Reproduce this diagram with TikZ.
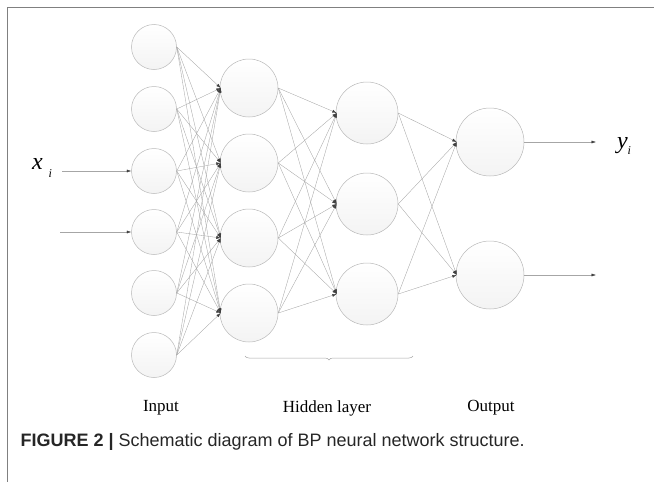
\documentclass[tikz,border=0pt]{standalone}
\usepackage{fontspec}
\setmainfont{Liberation Serif}
\newfontfamily\capfont{Liberation Sans}
\usetikzlibrary{arrows.meta,decorations.pathreplacing}

\tikzset{
  neuron/.style={circle, draw=gray!55, line width=0.5pt, top color=white, bottom color=gray!9, inner sep=0pt},
  link/.style={draw=gray!70, line width=0.35pt, -{Latex[length=4.5pt,width=3pt,color=black!75]}},
  lbl/.style={font=\fontsize{17}{20}\selectfont},
  var/.style={font=\fontsize{24}{28}\selectfont\itshape}
}

\begin{document}
\begin{tikzpicture}[x=1pt, y=-1pt]

  \useasboundingbox (0,0) rectangle (654,482);
  \draw[gray, line width=1.5pt] (7.5,482) -- (7.5,7.5) -- (654,7.5);

  % layers
  \foreach \y [count=\i] in {47,109,171,232,293,355}
    \node[neuron, minimum size=45pt] (in\i) at (154,\y) {};
  \foreach \y [count=\i] in {88,163,238,313}
    \node[neuron, minimum size=58pt] (hA\i) at (249,\y) {};
  \foreach \y [count=\i] in {113,204,294}
    \node[neuron, minimum size=62pt] (hB\i) at (367,\y) {};
  \foreach \y [count=\i] in {142,275}
    \node[neuron, minimum size=68pt] (out\i) at (490,\y) {};

  % weights
  \foreach \i in {1,...,6}
    \foreach \j in {1,...,4}
      \draw[link] (in\i.east) -- ([xshift=1pt]hA\j.west);
  \foreach \i in {1,...,4}
    \foreach \j in {1,...,3}
      \draw[link] (hA\i.east) -- ([xshift=1pt]hB\j.west);
  \foreach \i in {1,...,3}
    \foreach \j in {1,2}
      \draw[link] (hB\i.east) -- ([xshift=1pt]out\j.west);

  % inputs and outputs
  \coordinate (xin1) at (62,171);
  \coordinate (xin2) at (60,232);
  \coordinate (yout1) at (596,142);
  \coordinate (yout2) at (596,275);
  \draw[link] (xin1) -- (in3.west);
  \draw[link] (xin2) -- (in4.west);
  \draw[link] (out1.east) -- (yout1);
  \draw[link] (out2.east) -- (yout2);

  \node[var] (xlbl) at (42,168) {x\hspace{6pt}\raisebox{-8pt}{\fontsize{12}{14}\selectfont i}};
  \node[var] (ylbl) at (624,146) {y\raisebox{-6pt}{\fontsize{12}{14}\selectfont i}};

  % hidden layer brace
  \coordinate (brL) at (245,356);
  \coordinate (brR) at (413,356);
  \draw[gray!70, line width=0.5pt, decorate, decoration={brace, mirror, amplitude=4pt}] (brL) -- (brR);

  \node[lbl] (inputlbl) at (161,408) {Input};
  \node[lbl] (hiddenlbl) at (327,408) {Hidden layer};
  \node[lbl] (outputlbl) at (491,408) {Output};

  \node[anchor=west, font=\capfont\fontsize{18}{21}\selectfont, text=black!85] (caption) at (17,442)
    {\textbf{FIGURE 2 |} Schematic diagram of BP neural network structure.};

\end{tikzpicture}
\end{document}
